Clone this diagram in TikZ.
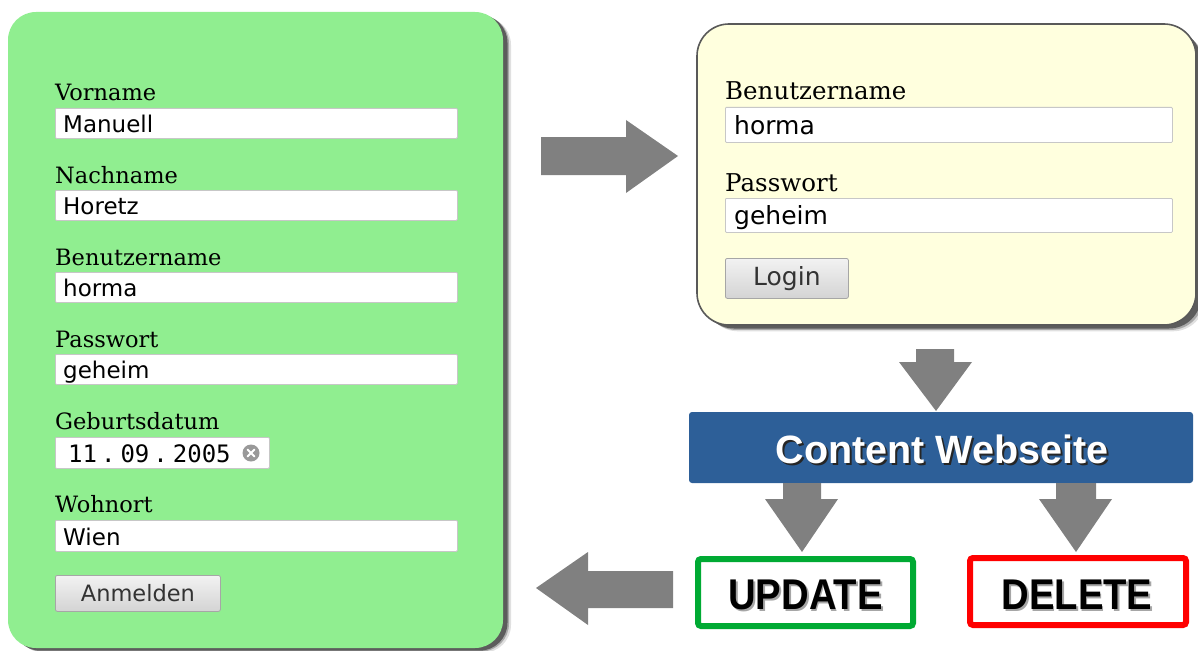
\documentclass[tikz,border=0pt]{standalone}
\usepackage{fontspec}
\usetikzlibrary{calc}
\setmainfont{DejaVu Serif}
\newfontfamily\inputfont{DejaVu Sans}
\newfontfamily\datefont{DejaVu Sans Mono}
\newfontfamily\headfont{Liberation Sans}
\definecolor{boxgreen}{HTML}{90EE90}
\definecolor{boxyellow}{HTML}{FFFFDE}
\definecolor{arrowgray}{HTML}{808080}
\definecolor{webblue}{HTML}{2D5F98}
\definecolor{updgreen}{HTML}{00AA33}
\definecolor{delred}{HTML}{FF0000}
\newcommand\shadowed[3]{\makebox[0pt][l]{\hspace{#2}\raisebox{-#2}{\textcolor{#1}{#3}}}#3}
\tikzset{
  lbl/.style={anchor=base west, inner sep=0pt, font=\fontsize{22.5}{27}\selectfont},
  rlbl/.style={anchor=base west, inner sep=0pt, font=\fontsize{24.5}{29}\selectfont},
  fld/.style={fill=white, draw=black!22, line width=0.8pt, rounded corners=1pt, anchor=north west, inner sep=0pt},
  val/.style={anchor=base west, inner sep=0pt, font=\inputfont\fontsize{23}{27}\selectfont},
  rval/.style={anchor=base west, inner sep=0pt, font=\inputfont\fontsize{25}{29}\selectfont},
  btn/.style={top color=black!5, bottom color=black!17, draw=black!35, line width=0.8pt, rounded corners=2pt, anchor=north west, inner sep=0pt, text=black!80},
  blockarrow/.style={fill=arrowgray},
  bigtxt/.style={inner sep=0pt, anchor=base, font=\headfont\bfseries\fontsize{39.5}{44}\selectfont},
  cmdtxt/.style={inner sep=0pt, anchor=base, font=\headfont\bfseries\fontsize{43}{48}\selectfont, xscale=0.89, transform shape},
}
\begin{document}
\begin{tikzpicture}[x=1pt,y=-1pt]
\useasboundingbox (0,0) rectangle (1198,650);
% ---------- green registration form ----------
\foreach \o/\a in {8/0.12,6/0.25,4.5/0.45}{
  \fill[black, opacity=\a, rounded corners=28pt] (8+\o,12+\o*0.6) rectangle (503+\o,648+\o*0.6);
}
\fill[boxgreen, rounded corners=28pt] (8,12) rectangle (503,648);
\node[lbl] (lvor) at (55,101) {Vorname};
\node[fld, minimum width=402pt, minimum height=30pt] (fvor) at (55,108) {};
\node[val] (vvor) at (63,132) {Manuell};
\node[lbl] (lnach) at (55,183) {Nachname};
\node[fld, minimum width=402pt, minimum height=30pt] (fnach) at (55,190) {};
\node[val] (vnach) at (63,214) {Horetz};
\node[lbl] (lben) at (55,265) {Benutzername};
\node[fld, minimum width=402pt, minimum height=30pt] (fben) at (55,272) {};
\node[val] (vben) at (63,296) {horma};
\node[lbl] (lpw) at (55,347) {Passwort};
\node[fld, minimum width=402pt, minimum height=30pt] (fpw) at (55,354) {};
\node[val] (vpw) at (63,378) {geheim};
\node[lbl] (lgeb) at (55,429) {Geburtsdatum};
\node[fld, minimum width=214pt, minimum height=31pt] (fgeb) at (55,437) {};
\node[anchor=base west, inner sep=0pt, font=\datefont\fontsize{24}{28}\selectfont] (vgeb) at (68,462) {11\hspace{4pt}.\hspace{5pt}09\hspace{4pt}.\hspace{5pt}2005};
\node[circle, fill=black!40, minimum size=17pt, inner sep=0pt] (clr) at (251,453) {};
\draw[white, line width=1.8pt, line cap=round] ($(clr.center)+(-3.5,-3.5)$) -- ($(clr.center)+(3.5,3.5)$)
  ($(clr.center)+(-3.5,3.5)$) -- ($(clr.center)+(3.5,-3.5)$);
\node[lbl] (lwohn) at (55,512) {Wohnort};
\node[fld, minimum width=402pt, minimum height=31pt] (fwohn) at (55,520) {};
\node[val] (vwohn) at (63,545) {Wien};
\node[btn, minimum width=165pt, minimum height=36pt, font=\inputfont\fontsize{22.5}{27}\selectfont] (anm) at (55,575) {Anmelden};
% ---------- yellow login box ----------
\foreach \o/\a in {9/0.12,7/0.25,5/0.45}{
  \fill[black, opacity=\a, rounded corners=32pt] (697+\o,24+\o) rectangle (1196+\o,325+\o*0.7);
}
\draw[fill=boxyellow, draw=black!65, line width=1.6pt, rounded corners=32pt] (697,24) rectangle (1196,325);
\node[rlbl] (rlben) at (725,100) {Benutzername};
\node[fld, minimum width=447pt, minimum height=35pt] (rfben) at (725,107) {};
\node[rval] (rvben) at (734,134) {horma};
\node[rlbl] (rlpw) at (725,191) {Passwort};
\node[fld, minimum width=447pt, minimum height=34pt] (rfpw) at (725,198) {};
\node[rval] (rvpw) at (734,224) {geheim};
\node[btn, minimum width=123pt, minimum height=40pt, font=\inputfont\fontsize{25}{29}\selectfont] (login) at (725,258) {Login};
% ---------- arrows ----------
\fill[blockarrow] (541,137) -- (626,137) -- (626,120) -- (678,156) -- (626,193) -- (626,175) -- (541,175) -- cycle;
\fill[blockarrow] (916,349) -- (954,349) -- (954,362) -- (972,362) -- (936,411) -- (899,362) -- (916,362) -- cycle;
% ---------- content box ----------
\fill[webblue, rounded corners=3pt] (689,412) rectangle (1193,483);
\node[bigtxt, text=white] (cw) at (942,463) {\shadowed{black!85}{2pt}{Content Webseite}};
\fill[blockarrow] (783,483) -- (821,483) -- (821,499) -- (838,499) -- (802,552) -- (765,499) -- (783,499) -- cycle;
\fill[blockarrow] (1056,483) -- (1096,483) -- (1096,499) -- (1112,499) -- (1076,552) -- (1039,499) -- (1056,499) -- cycle;
% ---------- update / delete ----------
\draw[updgreen, fill=white, line width=6pt, rounded corners=3pt] (698,559) rectangle (913,626);
\node[cmdtxt, text=black] (upd) at (805.5,609) {\shadowed{black!35}{2pt}{UPDATE}};
\draw[delred, fill=white, line width=6pt, rounded corners=3pt] (970,558) rectangle (1186,625);
\node[cmdtxt, text=black] (del) at (1077,609) {\shadowed{black!35}{2pt}{DELETE}};
\fill[blockarrow] (673,571) -- (588,571) -- (588,552) -- (536,588) -- (588,625) -- (588,608) -- (673,608) -- cycle;
\end{tikzpicture}
\end{document}
